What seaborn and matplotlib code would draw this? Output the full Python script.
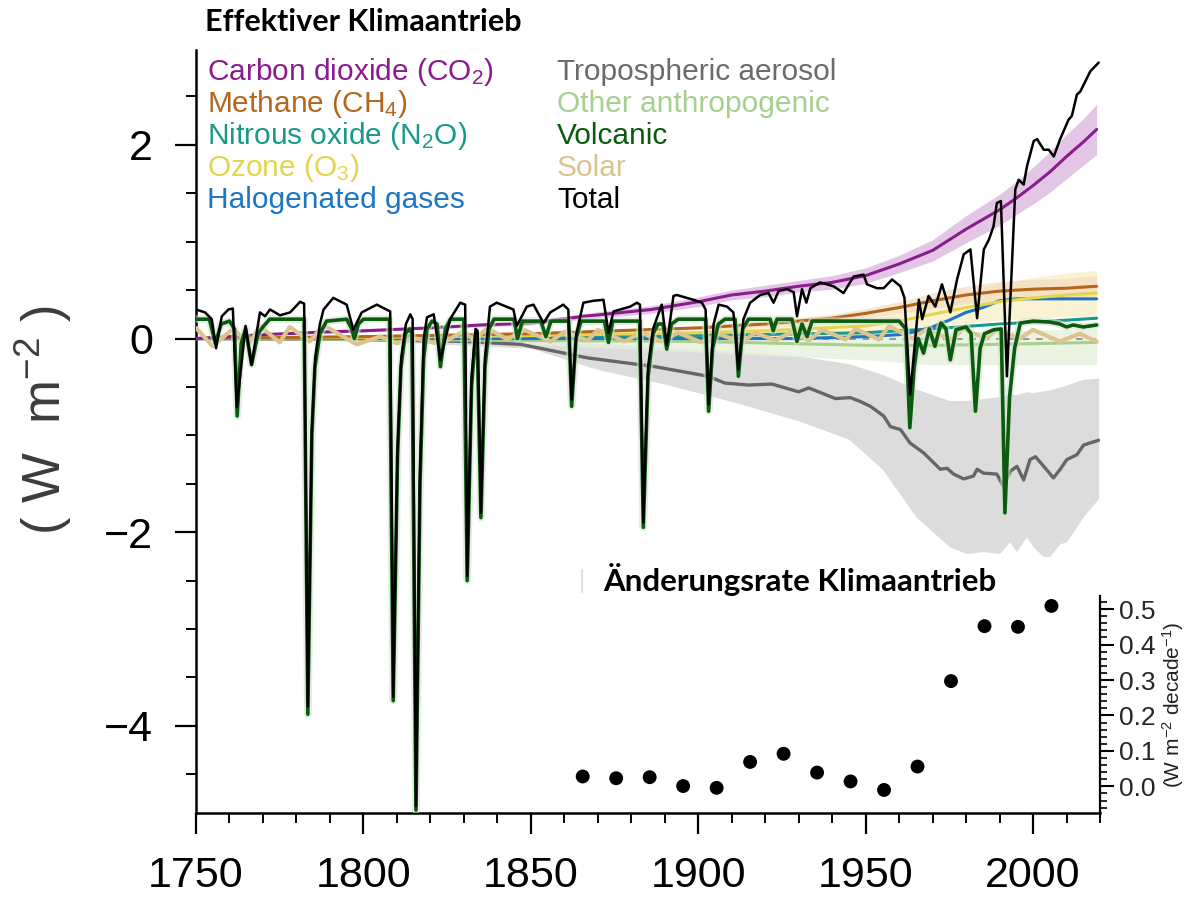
import matplotlib
matplotlib.use("Agg")
import matplotlib.pyplot as plt
import seaborn as sns
from matplotlib.ticker import MultipleLocator, FormatStrFormatter
from matplotlib.lines import Line2D

# ---------------- data ----------------
co2_years = [1750, 1770, 1790, 1800, 1820, 1835, 1850, 1866, 1886, 1900, 1910, 1920, 1930, 1940,
             1950, 1960, 1970, 1980, 1990, 1995, 2000, 2005, 2010, 2015, 2019]
co2_vals = [0.00, 0.04, 0.07, 0.08, 0.11, 0.14, 0.16, 0.23, 0.30, 0.38, 0.45, 0.49, 0.54, 0.58,
            0.65, 0.77, 0.91, 1.13, 1.33, 1.45, 1.58, 1.72, 1.88, 2.03, 2.16]
co2_lo = [0.00, 0.035, 0.06, 0.07, 0.10, 0.12, 0.14, 0.20, 0.26, 0.33, 0.40, 0.43, 0.48, 0.51,
          0.57, 0.68, 0.80, 0.99, 1.17, 1.28, 1.39, 1.51, 1.65, 1.79, 1.90]
co2_hi = [0.00, 0.045, 0.08, 0.09, 0.12, 0.16, 0.18, 0.26, 0.34, 0.43, 0.50, 0.55, 0.60, 0.65,
          0.73, 0.86, 1.02, 1.27, 1.49, 1.62, 1.77, 1.93, 2.11, 2.27, 2.42]

ch4_years = [1750, 1800, 1850, 1900, 1910, 1920, 1930, 1940, 1950, 1960, 1970, 1980, 1990, 2000, 2010, 2019]
ch4_vals = [0.00, 0.02, 0.05, 0.11, 0.13, 0.15, 0.18, 0.21, 0.26, 0.32, 0.39, 0.45, 0.49, 0.51, 0.52, 0.54]
ch4_lo = [0.00, 0.016, 0.04, 0.09, 0.10, 0.12, 0.14, 0.17, 0.21, 0.26, 0.31, 0.36, 0.39, 0.41, 0.42, 0.43]
ch4_hi = [0.00, 0.024, 0.06, 0.13, 0.16, 0.18, 0.22, 0.25, 0.31, 0.38, 0.47, 0.54, 0.59, 0.61, 0.62, 0.65]

o3_years = [1750, 1800, 1850, 1900, 1920, 1950, 1960, 1970, 1980, 1990, 2000, 2010, 2019]
o3_vals = [0.00, 0.01, 0.03, 0.06, 0.08, 0.13, 0.18, 0.25, 0.32, 0.38, 0.42, 0.45, 0.47]
o3_lo = [0.00, 0.005, 0.015, 0.03, 0.04, 0.065, 0.09, 0.125, 0.16, 0.19, 0.21, 0.225, 0.235]
o3_hi = [0.00, 0.015, 0.045, 0.09, 0.12, 0.195, 0.27, 0.375, 0.48, 0.57, 0.63, 0.675, 0.705]

n2o_years = [1750, 1800, 1850, 1900, 1950, 1970, 1990, 2000, 2010, 2019]
n2o_vals = [0.00, 0.01, 0.02, 0.03, 0.06, 0.10, 0.15, 0.17, 0.19, 0.21]

halo_years = [1750, 1930, 1940, 1950, 1960, 1965, 1970, 1975, 1980, 1985, 1990, 1995, 2000, 2010, 2019]
halo_vals = [0.00, 0.00, 0.01, 0.02, 0.04, 0.07, 0.12, 0.19, 0.27, 0.32, 0.39, 0.41, 0.41, 0.41, 0.41]

other_years = [1750, 1800, 1850, 1900, 1950, 1970, 1990, 2019]
other_vals = [0.00, -0.01, -0.02, -0.03, -0.07, -0.07, -0.06, -0.04]
other_lo = [0.00, -0.02, -0.06, -0.14, -0.22, -0.27, -0.27, -0.27]
other_hi = [0.00, 0.00, 0.01, 0.03, 0.05, 0.06, 0.08, 0.10]

aer_years = [1750, 1800, 1830, 1847, 1867, 1887, 1903, 1908, 1915, 1922, 1930, 1933, 1941, 1945.4,
             1948.4, 1951.4, 1955.4, 1957.4, 1960.4, 1963.3, 1967.3, 1972.3, 1974.3, 1976.3, 1979.3,
             1982.2, 1983.3, 1985.2, 1989.2, 1991.2, 1993.2, 1995.2, 1997.2, 1999.1, 2000.7, 2003.2,
             2006.1, 2008.1, 2010.1, 2013.1, 2015.1, 2019.6]
aer_vals = [0.00, -0.01, -0.03, -0.06, -0.20, -0.29, -0.39, -0.46, -0.48, -0.47, -0.55, -0.51, -0.62, -0.61,
            -0.65, -0.70, -0.80, -0.91, -0.94, -1.08, -1.18, -1.35, -1.34, -1.40, -1.45,
            -1.42, -1.35, -1.39, -1.40, -1.53, -1.37, -1.32, -1.46, -1.25, -1.22, -1.32,
            -1.44, -1.35, -1.25, -1.20, -1.10, -1.05]
aer_band_years = [1750, 1800, 1850, 1870, 1890, 1910, 1930, 1945, 1955, 1965, 1975, 1980, 1985, 1990,
                  1993, 1995, 1998, 2000, 2003, 2005, 2008, 2010, 2015, 2019.6]
aer_band_hi = [0.00, -0.005, -0.02, -0.05, -0.09, -0.13, -0.18, -0.26, -0.37, -0.52, -0.64, -0.64, -0.62, -0.60,
               -0.57, -0.58, -0.55, -0.56, -0.54, -0.53, -0.50, -0.48, -0.42, -0.41]
aer_band_lo = [0.00, -0.02, -0.10, -0.32, -0.47, -0.65, -0.85, -1.04, -1.35, -1.84, -2.15, -2.22, -2.20, -2.22,
               -2.10, -2.20, -2.05, -2.15, -2.25, -2.25, -2.12, -2.10, -1.84, -1.65]

volc_years = [1750, 1754, 1755.8, 1757.5, 1760, 1761.5, 1762.3, 1763.5, 1764.8, 1766.6, 1768.5, 1770, 1772,
              1782.3, 1783.4, 1784.6, 1785.5, 1787, 1789, 1795, 1796.5, 1797.3, 1798.5, 1800,
              1807.8, 1808.9, 1810.2, 1811.2, 1812.5, 1813.8, 1814.5, 1815.7, 1816.9, 1818, 1819, 1820.5,
              1822, 1823, 1824.5, 1826, 1830, 1831.0, 1832.3, 1833.5, 1834, 1835.1, 1836.3, 1837.5, 1839,
              1845, 1846, 1847.5, 1853, 1854.5, 1856, 1861.3, 1862.2, 1863.5, 1865, 1872, 1873.2, 1874.5,
              1882.5, 1883.6, 1885, 1886.5, 1888, 1889.5, 1890.6, 1892, 1894, 1902.2, 1903.1, 1904.3, 1906,
              1908, 1911, 1912.0, 1913.3, 1915, 1921.5, 1922.4, 1923.5, 1928, 1929.5, 1931, 1932.5, 1934,
              1960, 1962, 1963.2, 1964.5, 1965.7, 1967.3, 1969, 1970.7, 1972.5, 1974, 1975.3, 1977, 1980,
              1981.5, 1982.8, 1984.2, 1985.5, 1988.2, 1990.5, 1991.6, 1993, 1994.5, 1996.2, 2000, 2005,
              2008, 2010, 2012, 2015, 2019]
volc_vals = [0.20, 0.20, -0.05, 0.15, 0.18, 0.10, -0.80, -0.05, 0.10, -0.27, 0.05, 0.12, 0.20,
             0.20, -3.88, -1.00, -0.30, 0.05, 0.18, 0.20, 0.10, 0.00, 0.15, 0.20,
             0.20, -3.74, -1.20, -0.30, 0.05, 0.10, 0.05, -4.87, -1.50, -0.20, 0.10, 0.18,
             0.15, -0.29, 0.10, 0.20, 0.20, -2.50, -0.50, 0.05, 0.00, -1.85, -0.30, 0.10, 0.20,
             0.20, 0.00, 0.18, 0.18, 0.02, 0.18, 0.18, -0.70, 0.00, 0.18, 0.18, -0.04, 0.18,
             0.18, -1.95, -0.40, 0.05, 0.15, 0.15, -0.11, 0.15, 0.20, 0.20, -0.75, -0.10, 0.15,
             0.20, 0.20, -0.39, 0.10, 0.20, 0.20, 0.08, 0.20, 0.20, -0.03, 0.15, 0.02, 0.18,
             0.18, 0.10, -0.92, -0.30, 0.00, -0.15, 0.10, -0.08, 0.16, 0.10, -0.22, 0.09, 0.12,
             0.05, -0.75, -0.10, 0.05, 0.09, 0.10, -1.80, -0.60, -0.10, 0.16, 0.18, 0.17,
             0.15, 0.12, 0.14, 0.12, 0.14]

solar_years = [1750, 1755, 1761, 1766, 1769, 1775, 1778, 1784, 1788, 1798, 1805, 1810, 1816, 1823, 1830,
               1833, 1837, 1843, 1848, 1856, 1860, 1867, 1870, 1878, 1883, 1889, 1894, 1901, 1906, 1913,
               1917, 1923, 1928, 1933, 1937, 1944, 1947, 1954, 1957, 1964, 1968, 1976, 1979, 1986, 1989,
               1996, 2000, 2008, 2014, 2019]
solar_vals = [0.11, -0.08, 0.10, -0.05, 0.13, -0.04, 0.12, -0.03, 0.14, -0.06, 0.02, -0.05, 0.00, -0.06, 0.08,
              -0.02, 0.11, -0.01, 0.09, -0.03, 0.07, -0.02, 0.09, -0.03, 0.06, -0.03, 0.06, -0.04, 0.05, -0.04,
              0.06, -0.02, 0.07, -0.02, 0.09, -0.01, 0.10, -0.01, 0.13, 0.00, 0.09, -0.01, 0.10, 0.00, 0.09,
              0.00, 0.09, -0.03, 0.05, -0.03]

total_years = [1750, 1752.7, 1754.7, 1756, 1757.7, 1759.7, 1761, 1762.2, 1764.8, 1766.6, 1769.1, 1770.6,
               1772.1, 1775.1, 1778.1, 1781.1, 1782.3, 1783.4, 1784.6, 1785.6, 1787, 1788.1, 1791, 1795,
               1797, 1799.5, 1804, 1808, 1808.9, 1810.2, 1811.3, 1812.7, 1814, 1814.7, 1815.7, 1816.9,
               1818, 1819, 1821, 1823, 1825.9, 1828.9, 1830.4, 1831.0, 1832.3, 1833.5, 1834.1, 1835.1,
               1836.3, 1837.8, 1839.8, 1844.8, 1845.8, 1848.8, 1850.8, 1853.8, 1855.8, 1859.7, 1861.2,
               1862.2, 1863.6, 1865.7, 1868.7, 1871.7, 1873.2, 1874.7, 1879.7, 1881.7, 1882.6, 1883.6,
               1885, 1886.5, 1889.1, 1890.6, 1892.6, 1893.6, 1898.6, 1901.1, 1902.2, 1903.1, 1904.6,
               1906.1, 1908.6, 1910.5, 1912.0, 1913.5, 1915.5, 1918.5, 1921, 1922.5, 1924, 1926.5,
               1928.5, 1929.5, 1931, 1932.3, 1933.5, 1936.4, 1940.4, 1943.4, 1946.4, 1949.4, 1950.4,
               1953.4, 1955.4, 1957.9, 1960.4, 1961.6, 1963.3, 1965.9, 1966.9, 1968.8, 1970.8, 1972.8,
               1975.3, 1977.3, 1979.3, 1981.3, 1983.3, 1985.3, 1986.8, 1988.2, 1989.2, 1990.4, 1992.2,
               1994.7, 1995.7, 1997.2, 1998.2, 2000.2, 2001.2, 2003.2, 2004.7, 2006.2, 2008.1, 2010.6,
               2011.6, 2013.1, 2014.1, 2017.1, 2019.6]
total_vals = [0.30, 0.27, 0.20, -0.10, 0.23, 0.30, 0.31, -0.71, 0.13, -0.27, 0.27, 0.23,
              0.30, 0.24, 0.27, 0.38, 0.36, -3.80, -0.95, -0.20, 0.15, 0.30, 0.42, 0.35,
              0.09, 0.27, 0.35, 0.28, -3.70, -1.15, -0.20, 0.15, 0.25, 0.20, -4.83, -1.40,
              0.00, 0.22, 0.25, -0.22, 0.20, 0.37, 0.35, -2.45, -0.40, 0.10, 0.08, -1.80,
              -0.20, 0.33, 0.37, 0.30, 0.13, 0.33, 0.35, 0.16, 0.27, 0.35, 0.30,
              -0.63, 0.05, 0.37, 0.39, 0.40, 0.06, 0.28, 0.33, 0.37, 0.35, -1.90,
              -0.30, 0.10, 0.35, -0.07, 0.44, 0.45, 0.40, 0.37, 0.30, -0.68, 0.15,
              0.35, 0.33, 0.27, -0.32, 0.20, 0.37, 0.45, 0.47, 0.37, 0.49, 0.51,
              0.48, 0.23, 0.51, 0.37, 0.52, 0.58, 0.54, 0.47, 0.64, 0.66, 0.56,
              0.52, 0.52, 0.61, 0.54, 0.42, -0.58, 0.40, 0.20, 0.44, 0.33, 0.56,
              0.27, 0.61, 0.87, 0.92, 0.21, 0.92, 1.02, 1.16, 1.40, 1.42, -0.39,
              1.54, 1.64, 1.59, 1.78, 2.04, 2.06, 1.95, 1.95, 1.88, 2.06, 2.26,
              2.30, 2.52, 2.55, 2.76, 2.85]

rate_years = [1865.5, 1875.5, 1885.5, 1895.5, 1905.5, 1915.5, 1925.5, 1935.5, 1945.5, 1955.5,
              1965.5, 1975.5, 1985.5, 1995.5, 2005.5]
rate_vals = [0.028, 0.023, 0.026, 0.001, -0.004, 0.069, 0.092, 0.039, 0.014, -0.010,
             0.056, 0.297, 0.452, 0.450, 0.509]

legend_left = [r"Carbon dioxide (CO$_\mathregular{2}$)", r"Methane (CH$_\mathregular{4}$)",
               r"Nitrous oxide (N$_\mathregular{2}$O)", r"Ozone (O$_\mathregular{3}$)", "Halogenated gases"]
legend_right = ["Tropospheric aerosol", "Other anthropogenic", "Volcanic", "Solar", "Total"]
title_main = "Effektiver Klimaantrieb"
title_inset = "Änderungsrate Klimaantrieb"

# ---------------- style ----------------
C_CO2, C_CH4, C_N2O, C_O3, C_HALO = "#8a1c8e", "#b5661d", "#18998a", "#e4d64c", "#1d76c3"
C_AER, C_OTHER, C_VOLC, C_SOLAR, C_TOT = "#666666", "#a7cf8e", "#0b5a0f", "#dfc38c", "#000000"

sns.set_theme(style="white")
plt.rcParams["font.family"] = ["Liberation Sans", "DejaVu Sans"]
plt.rcParams["mathtext.fontset"] = "custom"
plt.rcParams["mathtext.rm"] = "Liberation Sans"
plt.rcParams["mathtext.it"] = "Liberation Sans:italic"
plt.rcParams["mathtext.bf"] = "Liberation Sans:bold"
plt.rcParams["axes.unicode_minus"] = True

W, H = 1201, 897
fig = plt.figure(figsize=(W / 100, H / 100), dpi=100)
fig.patch.set_facecolor("white")

L, R, B, T = 196, 1100, 813, 50
ax = fig.add_axes([L / W, 1 - B / H, (R - L) / W, (B - T) / H])
ax.set_facecolor("white")


def line(x, y, color, lw, z, alpha=1.0):
    sns.lineplot(x=x, y=y, ax=ax, color=color, lw=lw, zorder=z, alpha=alpha,
                 estimator=None, sort=False, legend=False, solid_joinstyle="round",
                 solid_capstyle="round")


# bands
ax.fill_between(aer_band_years, aer_band_lo, aer_band_hi, color="#dcdcdc", lw=0, zorder=1)
ax.fill_between(other_years, other_lo, other_hi, color="#e6f0dc", lw=0, zorder=1.2, alpha=0.8)
ax.fill_between(o3_years, o3_lo, o3_hi, color="#f8f0c8", lw=0, zorder=1.3, alpha=0.8)
ax.fill_between(ch4_years, ch4_lo, ch4_hi, color="#f2dcbc", lw=0, zorder=1.4, alpha=0.7)
ax.fill_between(co2_years, co2_lo, co2_hi, color="#dcb8df", lw=0, zorder=1.5, alpha=0.8)

ax.axhline(0, color="#8a8a8a", lw=1.2, ls=(0, (4, 4)), zorder=1.8)

# lines
line(aer_years, aer_vals, C_AER, 2.4, 3)
line(other_years, other_vals, C_OTHER, 2.2, 3.1)
line(n2o_years, n2o_vals, C_N2O, 2.2, 3.2)
line(halo_years, halo_vals, C_HALO, 2.2, 3.3)
line(o3_years, o3_vals, C_O3, 2.2, 3.4)
line(ch4_years, ch4_vals, C_CH4, 2.2, 3.5)
line(co2_years, co2_vals, C_CO2, 2.2, 3.6)
line(solar_years, solar_vals, C_SOLAR, 3.0, 3.7)
line(volc_years, volc_vals, "#d3e4cc", 5.5, 3.75, alpha=0.6)
line(volc_years, volc_vals, C_VOLC, 2.6, 3.8)
line(total_years, total_vals, C_TOT, 1.8, 4)

ax.set_xlim(1750, 2020)
ax.set_ylim(-4.9, 2.98)
ax.xaxis.set_major_locator(MultipleLocator(50))
ax.xaxis.set_minor_locator(MultipleLocator(10))
ax.yaxis.set_major_locator(MultipleLocator(2))
ax.yaxis.set_minor_locator(MultipleLocator(0.5))
ax.set_xlabel("")
ax.set_ylabel("")
for s in ["top", "right"]:
    ax.spines[s].set_visible(False)
for s in ["left", "bottom"]:
    ax.spines[s].set_color("black")
    ax.spines[s].set_linewidth(1.8)
ax.tick_params(axis="both", which="major", bottom=True, left=True, direction="out",
               length=15, width=1.6, color="black", labelsize=31, pad=16, labelcolor="black")
ax.tick_params(axis="both", which="minor", bottom=True, left=True, direction="out",
               length=7.5, width=1.4, color="black")

# inset (rate of change)
IB, IT = 813, 596
ax2 = fig.add_axes([L / W, 1 - IB / H, (R - L) / W, (IB - IT) / H])
ax2.patch.set_visible(False)
sns.scatterplot(x=rate_years, y=rate_vals, ax=ax2, s=100, color="black", edgecolor="none",
                legend=False, zorder=5)
ax2.set_xlim(1750, 2020)
ax2.set_ylim(-0.075, 0.537)
for s in ["top", "left", "bottom"]:
    ax2.spines[s].set_visible(False)
ax2.spines["right"].set_color("black")
ax2.spines["right"].set_linewidth(1.6)
ax2.set_xticks([])
ax2.yaxis.set_major_locator(MultipleLocator(0.1))
ax2.yaxis.set_minor_locator(MultipleLocator(0.02))
ax2.yaxis.set_major_formatter(FormatStrFormatter("%.1f"))
ax2.tick_params(axis="y", which="both", left=False, right=True, labelleft=False,
                labelright=True, direction="out", color="black")
ax2.tick_params(axis="y", which="major", length=10, width=1.5, labelsize=19, pad=4)
ax2.tick_params(axis="y", which="minor", length=5, width=1.2)
ax2.yaxis.set_label_position("right")
ax2.set_ylabel(r"(W m$^{\mathregular{-2}}$ decade$^{\mathregular{-1}}$)", fontsize=15,
               rotation=90, labelpad=3, color="#222222")
ax2.set_xlabel("")

# texts
fig.text(205 / W, 1 - 22 / H, title_main, fontsize=22, fontweight="bold",
         family=["Lato", "Open Sans", "DejaVu Sans"], ha="left", va="center", color="black")
fig.text(603 / W, 1 - 580 / H, title_inset, fontsize=22.5, fontweight="bold",
         family=["Lato", "Open Sans", "DejaVu Sans"], ha="left", va="center", color="black")
fig.add_artist(Line2D([582 / W, 582 / W], [1 - 570 / H, 1 - 592 / H], color="#e0e0e0", lw=1.5))

fig.text(43 / W, 1 - 420 / H, r"( W  m$^{\mathregular{-2}}$ )", rotation=90, fontsize=38,
         color="#3c3c3c", ha="center", va="center")

left_cols = [C_CO2, C_CH4, C_N2O, C_O3, C_HALO]
right_cols = ["#6b6b6b", C_OTHER, C_VOLC, "#dcc38d", C_TOT]
rows = [72, 104, 136, 168, 200]
for txt, col, yy in zip(legend_left, left_cols, rows):
    fig.text(207 / W, 1 - yy / H, txt, color=col, fontsize=21.5, ha="left", va="center")
for txt, col, yy in zip(legend_right, right_cols, rows):
    fig.text(557 / W, 1 - yy / H, txt, color=col, fontsize=21.5, ha="left", va="center")

fig.savefig("out.png", dpi=100, facecolor="white")
